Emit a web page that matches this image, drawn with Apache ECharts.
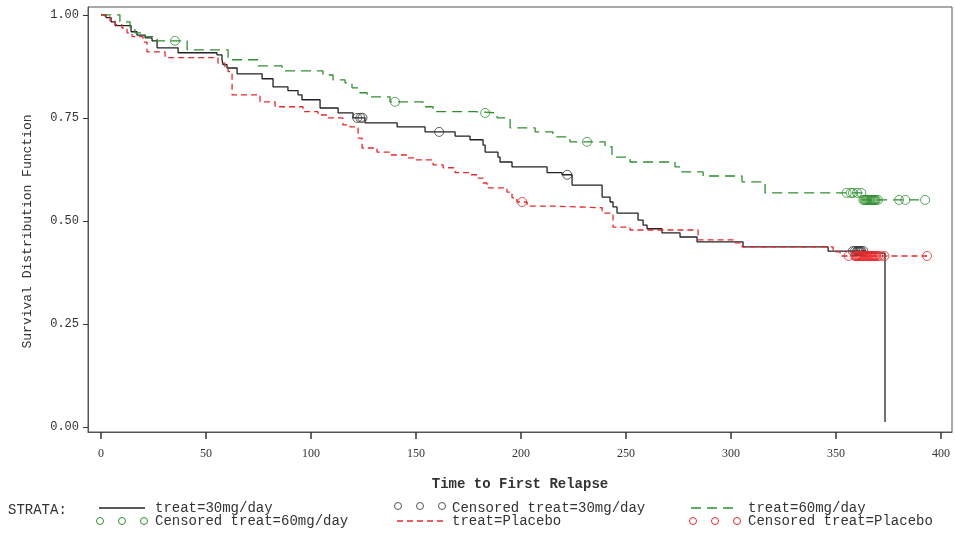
<!DOCTYPE html>
<html>
<head>
<meta charset="utf-8">
<script src="https://cdn.jsdelivr.net/npm/echarts@6/dist/echarts.min.js"></script>
<style>
  html, body { margin: 0; padding: 0; background: #fff; }
  #chart { width: 955px; height: 536px; }
</style>
</head>
<body>
<div id="chart"></div>
<script>
// tick labels
const xTicks = [0, 50, 100, 150, 200, 250, 300, 350, 400];
const yTicks = [0, 0.25, 0.5, 0.75, 1.0];

// treat=30mg/day  (time where the curve drops, value after the drop)
const t30Time = [0, 2.4, 4.8, 6.7, 14.3, 17.1, 21, 24.3, 26.7, 36.7, 55.2, 57.6, 58.1, 60, 64.8, 76.7, 81.9, 89, 93.8, 95.7, 104.3, 112.9, 120, 125.7, 141, 154.3, 168.6, 175.7, 181.9, 182.9, 189, 190, 195.7, 212.4, 219.5, 224.3, 238.6, 242.4, 243.8, 245.7, 255.7, 258.1, 260, 267.1, 275.7, 283.8, 305.7, 346.2, 364.3, 373.3];
const t30Surv = [1.0, 0.993, 0.983, 0.974, 0.959, 0.951, 0.944, 0.937, 0.92, 0.908, 0.903, 0.891, 0.879, 0.871, 0.857, 0.845, 0.825, 0.816, 0.806, 0.794, 0.774, 0.762, 0.75, 0.738, 0.728, 0.716, 0.706, 0.697, 0.684, 0.667, 0.655, 0.643, 0.631, 0.617, 0.612, 0.587, 0.558, 0.546, 0.534, 0.519, 0.502, 0.49, 0.481, 0.471, 0.461, 0.449, 0.437, 0.427, 0.422, 0.012];
const t30Cens = [122, 123.5, 124.5, 161, 222, 358, 359, 360, 360.5, 361, 361.5, 362, 363];

// treat=60mg/day
const t60Time = [0, 9, 13.8, 16.2, 21, 26.7, 41, 60.5, 74.8, 86.2, 105.7, 110.5, 116.2, 119.5, 123.3, 126.7, 137.6, 153.3, 158.1, 178.1, 188.6, 194.8, 206.7, 215.2, 223.3, 240, 243.3, 251.9, 273.3, 276.7, 286.7, 305.2, 316.2, 362.4, 392.4];
const t60Surv = [1.0, 0.983, 0.964, 0.956, 0.947, 0.937, 0.915, 0.891, 0.876, 0.864, 0.854, 0.842, 0.835, 0.823, 0.811, 0.801, 0.789, 0.777, 0.765, 0.762, 0.75, 0.726, 0.716, 0.704, 0.692, 0.68, 0.655, 0.643, 0.631, 0.619, 0.609, 0.595, 0.568, 0.551, 0.551];
const t60Cens = [35.2, 140, 182.9, 231.4, 355, 357, 358, 360, 362, 363, 363.5, 364, 364.5, 365, 365.5, 366, 366.5, 367, 367.5, 368, 368.5, 369, 370, 380, 383, 392.4];

// treat=Placebo
const plaTime = [0, 1.9, 4.3, 6.7, 10, 12.4, 14.8, 20, 21.9, 30.5, 55.7, 59, 60.5, 62.4, 75.7, 82.9, 96.2, 103.3, 108.1, 115.2, 118.6, 122.4, 124.3, 131.4, 137.6, 145.7, 149.5, 158.1, 162.9, 168.6, 175.7, 179.5, 181.9, 183.8, 193.3, 195.7, 198, 202.9, 215.2, 238.6, 243.8, 251.9, 284.3, 301.9, 305.2, 348.6, 351.9, 393.3];
const plaSurv = [1.0, 0.995, 0.985, 0.976, 0.968, 0.956, 0.947, 0.934, 0.91, 0.896, 0.883, 0.874, 0.862, 0.806, 0.789, 0.777, 0.765, 0.757, 0.75, 0.733, 0.728, 0.701, 0.677, 0.667, 0.66, 0.653, 0.648, 0.636, 0.629, 0.617, 0.612, 0.604, 0.592, 0.58, 0.57, 0.556, 0.546, 0.536, 0.532, 0.519, 0.485, 0.478, 0.454, 0.447, 0.437, 0.425, 0.415, 0.415];
const plaCens = [200.5, 356, 359, 359.5, 360, 360.5, 361, 361.5, 362, 362.5, 363, 363.5, 364, 364.5, 365, 365.5, 366, 366.5, 367, 367.5, 368, 368.5, 369, 370, 371, 373, 393.3];

function zip(a, b) {
  return a.map((v, i) => [v, b[i]]);
}
// survival value at time t (last drop at or before t)
function survAt(times, surv, t) {
  let s = surv[0];
  for (let i = 0; i < times.length; i++) {
    if (times[i] <= t) s = surv[i];
  }
  return s;
}
function censPts(times, surv, cens) {
  return cens.map((t) => [t, survAt(times, surv, t)]);
}

const cBlack = "#222222", cGreen = "#2f8f2f", cRed = "#e8282c";
const mono = "'Liberation Mono', 'DejaVu Sans Mono', monospace";
const serif = "'Liberation Serif', 'DejaVu Serif', serif";

let myChart = echarts.init(document.getElementById("chart"));

// legend drawn by hand, SAS style
function circles(x, y, color) {
  return [0, 22, 44].map((dx) => ({
    type: "circle",
    shape: { cx: x + dx, cy: y, r: 3.5 },
    style: { fill: "none", stroke: color, lineWidth: 1 },
  }));
}
function legLine(x, y, color, dash) {
  return {
    type: "line",
    shape: { x1: x, y1: y, x2: x + 46, y2: y },
    style: { stroke: color, lineWidth: 1.3, lineDash: dash },
  };
}
function legText(x, y, txt) {
  return {
    type: "text",
    x: x,
    y: y,
    style: { text: txt, font: "14px " + mono, fill: "#333", verticalAlign: "middle" },
  };
}
let row1 = 508, row2 = 521;
let graphic = [
  legText(8, 510, "STRATA:"),
  legLine(99, row1, cBlack, null),
  legText(155, row1, "treat=30mg/day"),
  ...circles(398, row1 - 2, "#555"),
  legText(452, row1, "Censored treat=30mg/day"),
  legLine(691, row1, cGreen, [10, 6]),
  legText(748, row1, "treat=60mg/day"),
  ...circles(100, row2, cGreen),
  legText(155, row2, "Censored treat=60mg/day"),
  legLine(397, row2, cRed, [6, 4]),
  legText(452, row2, "treat=Placebo"),
  ...circles(693, row2, cRed),
  legText(748, row2, "Censored treat=Placebo"),
];

function censSeries(name, data, color) {
  return {
    name: name,
    type: "scatter",
    symbol: "circle",
    symbolSize: 9,
    itemStyle: { color: "rgba(0,0,0,0)", borderColor: color, borderWidth: 1 },
    data: data,
    z: 3,
  };
}

let option = {
  animation: false,
  backgroundColor: "#fff",
  grid: { left: 88, right: 3, top: 7, bottom: 104, show: true, borderColor: "#555", borderWidth: 1 },
  xAxis: {
    type: "value",
    min: -6.2,
    max: 405.2,
    name: "Time to First Relapse",
    nameLocation: "middle",
    nameGap: 45,
    nameTextStyle: { fontFamily: mono, fontSize: 14, fontWeight: "bold", color: "#333" },
    axisLine: { show: true, onZero: false, lineStyle: { color: "#555" } },
    axisTick: { show: true, length: 7, customValues: xTicks, lineStyle: { color: "#333", width: 1.5 } },
    axisLabel: { customValues: xTicks, margin: 16, fontFamily: serif, fontSize: 12, color: "#333" },
    splitLine: { show: false },
  },
  yAxis: {
    type: "value",
    min: -0.012,
    max: 1.019,
    name: "Survival Distribution Function",
    nameLocation: "middle",
    nameGap: 54,
    nameTextStyle: { fontFamily: mono, fontSize: 13, color: "#333", padding: [0, 24, 0, 0] },
    axisLine: { show: true, onZero: false, lineStyle: { color: "#555" } },
    axisTick: { show: true, length: 5, customValues: yTicks, lineStyle: { color: "#333" } },
    axisLabel: {
      customValues: yTicks,
      margin: 9,
      fontFamily: mono,
      fontSize: 12,
      color: "#333",
      formatter: (v) => v.toFixed(2),
    },
    splitLine: { show: false },
  },
  graphic: graphic,
  series: [
    {
      name: "treat=30mg/day",
      type: "line",
      step: "end",
      symbol: "none",
      lineStyle: { color: cBlack, width: 1.3 },
      data: zip(t30Time, t30Surv),
    },
    {
      name: "treat=60mg/day",
      type: "line",
      step: "end",
      symbol: "none",
      lineStyle: { color: cGreen, width: 1.3, type: [10, 6] },
      data: zip(t60Time, t60Surv),
    },
    {
      name: "treat=Placebo",
      type: "line",
      step: "end",
      symbol: "none",
      lineStyle: { color: cRed, width: 1.3, type: [6, 4] },
      data: zip(plaTime, plaSurv),
    },
    censSeries("Censored treat=30mg/day", censPts(t30Time, t30Surv, t30Cens), "#333"),
    censSeries("Censored treat=60mg/day", censPts(t60Time, t60Surv, t60Cens), cGreen),
    censSeries("Censored treat=Placebo", censPts(plaTime, plaSurv, plaCens), cRed),
  ],
};
myChart.setOption(option, true);
window.onresize = myChart.resize;
</script>
</body>
</html>
